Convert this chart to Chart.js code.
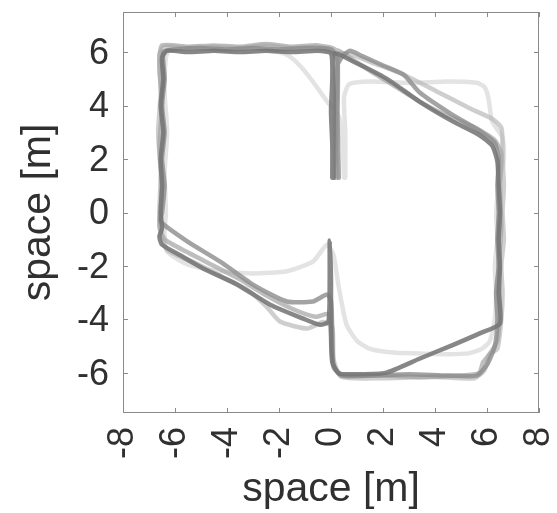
<!DOCTYPE html>
<html>
<head>
<meta charset="utf-8">
<script src="https://cdn.jsdelivr.net/npm/chart.js@4.4.1/dist/chart.umd.min.js"></script>
<style>
  body { margin: 0; background: #fff; }
  canvas { display: block; }
</style>
</head>
<body>
<canvas id="paths" width="557" height="513"></canvas>
<script>
"use strict";

// axis ticks
const xTicks = [-8, -6, -4, -2, 0, 2, 4, 6, 8];
const yTicks = [-6, -4, -2, 0, 2, 4, 6];

// trajectories, [x, y] in metres
const pathA = [[0.05,1.3],[0.05,2.5],[0,3.8],[0.05,5],[0,5.95],[-0.5,6.05],[-1.5,6],[-2.5,6.05],[-3.5,6],[-4.5,6.05],[-5.5,6],[-6.3,6.05],[-6.5,5.8],[-6.45,5],[-6.55,4],[-6.45,3],[-6.55,2],[-6.5,1],[-6.55,0],[-6.5,-0.6],[-6.6,-0.9],[-6.5,-1.2],[-5.8,-1.6],[-4.9,-2.1],[-3.6,-2.7],[-2.34,-3.45],[-1.07,-3.97],[-0.42,-4.2],[-0.1,-4.08],[-0.05,-2.5],[-0.05,-1.05],[0,-2.5],[0,-4.5],[0.05,-5.6],[0.3,-6.02],[1,-6.05],[2.1,-6],[3.4,-5.47],[4.7,-4.95],[5.7,-4.53],[6.5,-4.15],[6.45,-3],[6.5,-2],[6.45,-1],[6.5,0],[6.45,1],[6.4,1.9],[6.2,2.5],[5.7,2.9],[4.7,3.4],[3.4,4.15],[2.15,5],[0.85,5.65],[0.1,5.95],[0.1,4.5],[0.1,3],[0.1,1.3]];
const pathB = [[0.3,1.3],[0.25,3.5],[0.25,5.7],[0,6.1],[-1,6.15],[-2,6.1],[-3,6.15],[-4,6.1],[-5,6.15],[-6,6.1],[-6.45,6],[-6.4,5],[-6.5,4],[-6.4,3],[-6.5,2],[-6.4,1],[-6.5,0],[-6.56,-0.34],[-5.5,-1.1],[-4.26,-1.84],[-3,-2.7],[-1.7,-3.33],[-0.7,-3.33],[-0.15,-3.07],[0,-3.3],[0.05,-4.5],[0.1,-5.7],[0.4,-6.1],[1.5,-6.1],[3,-6.05],[4.5,-6.1],[5.6,-6.1],[6,-5.7],[6.3,-5],[6.4,-4],[6.35,-3],[6.45,-2],[6.4,-1],[6.45,0],[6.4,1],[6.45,2],[6.3,2.6],[5.8,3],[4.6,3.7],[3.4,4.5],[2.8,5.15],[2,5.5],[1.2,5.85],[0.73,6.05],[0.45,5.85],[0.25,5.5],[0.25,3.5],[0.3,1.3]];
const pathC = [[0.15,1.3],[0.15,3.5],[0.15,5.9],[-0.5,6.2],[-1.5,6.15],[-2.5,6.25],[-3.5,6.15],[-4.5,6.2],[-5.5,6.15],[-6.4,6.2],[-6.6,5.9],[-6.55,4.5],[-6.65,3],[-6.55,1.5],[-6.6,0],[-6.55,-0.8],[-6.3,-1.4],[-5.2,-1.9],[-4.2,-2.4],[-3.2,-2.9],[-2.5,-3.5],[-1.96,-4.08],[-0.92,-4.34],[-0.3,-4.1],[0.05,-4.3],[0.1,-5.5],[0.4,-6.15],[2,-6.2],[4,-6.15],[5.5,-6.2],[5.9,-5.9],[6.1,-5.3],[6.4,-5.1],[6.55,-4],[6.6,-3],[6.55,-2],[6.65,-1],[6.6,0],[6.65,1],[6.6,2],[6.56,3.15],[6.2,3.5],[5.33,3.9],[4.07,4.53],[2.76,5.17],[1.6,5.6],[0.8,5.9],[0.3,5.95],[0.2,4],[0.15,1.3]];
const pathD = [[0.5,1.3],[0.45,2.5],[0.3,3.6],[-0.15,4.15],[-0.7,4.9],[-1.2,5.5],[-1.7,5.9],[-2.5,6.1],[-3.5,6.15],[-4.5,6.1],[-5.5,6.15],[-6.2,6.1],[-6.35,5.8],[-6.4,4.5],[-6.3,3],[-6.4,1.5],[-6.35,0],[-6.4,-0.8],[-6.3,-1.46],[-5.5,-1.95],[-4.26,-2.2],[-3,-2.28],[-1.7,-2.2],[-0.7,-1.84],[-0.15,-1.2],[0.1,-1.6],[0.3,-2.8],[0.6,-4.2],[1,-4.8],[1.5,-5.1],[2.5,-5.25],[3.4,-5.27],[4.5,-5.3],[5.3,-5.27],[5.8,-5.1],[6.1,-4.83],[6.3,-4],[6.35,-3],[6.3,-2],[6.4,-1],[6.35,0],[6.5,1.3],[6.65,2],[6.6,2.8],[6.2,3.4],[6.05,4.3],[5.9,4.7],[5.6,4.85],[4.5,4.9],[3,4.85],[1.5,4.9],[0.7,4.8],[0.5,4.3],[0.55,3],[0.55,1.3]];
const pathE = [[0.2,1.3],[0.2,4],[0.2,6.05],[-0.5,6.25],[-1.5,6.2],[-2.5,6.3],[-3.5,6.2],[-4.5,6.25],[-5.5,6.2],[-6.5,6.25],[-6.6,5.5],[-6.5,4],[-6.6,2.5],[-6.5,1],[-6.6,-0.5],[-6.4,-1],[-5.5,-1.5],[-4.5,-2],[-3.5,-2.5],[-2.5,-3.1],[-1.5,-3.6],[-0.6,-3.9],[-0.1,-3.8],[0,-4.5],[0.1,-5.8],[0.5,-6.1],[2,-6.1],[3.5,-6.15],[5,-6.1],[5.7,-6],[5.85,-5.6],[6.1,-5.3],[6.4,-4.8],[6.5,-3.5],[6.45,-2],[6.55,-0.5],[6.5,1],[6.55,2.2],[6.3,2.7],[5.5,3.2],[4.5,3.6],[3.5,4.1],[2.5,4.7],[1.5,5.3],[0.7,5.8],[0.2,6.05],[0.2,4],[0.2,1.3]];

const paths = [pathA, pathB, pathE, pathC, pathD];
const shades = ["rgba(118,118,118,0.88)", "rgba(140,140,140,0.8)", "rgba(165,165,165,0.72)", "rgba(185,185,185,0.7)", "rgba(222,222,222,0.85)"];

// MATLAB-achtig kader med tickmarks inåt på alla fyra sidor
const frame = {
  id: "frame",
  afterDraw(chart) {
    const { ctx, chartArea: a, scales } = chart;
    ctx.save();
    ctx.strokeStyle = "#8a8a8a";
    ctx.lineWidth = 1;
    ctx.strokeRect(a.left + 0.5, a.top + 0.5, a.right - a.left - 1, a.bottom - a.top - 1);
    ctx.beginPath();
    xTicks.forEach(v => {
      const p = Math.round(scales.x.getPixelForValue(v)) + 0.5;
      ctx.moveTo(p, a.bottom); ctx.lineTo(p, a.bottom - 5);
      ctx.moveTo(p, a.top); ctx.lineTo(p, a.top + 5);
    });
    yTicks.forEach(v => {
      const p = Math.round(scales.y.getPixelForValue(v)) + 0.5;
      ctx.moveTo(a.left, p); ctx.lineTo(a.left + 5, p);
      ctx.moveTo(a.right, p); ctx.lineTo(a.right - 5, p);
    });
    ctx.stroke();
    ctx.restore();
  }
};

const tickFont = { family: "'Liberation Sans', Arial, sans-serif", size: 36 };
const titleFont = { family: "'Liberation Sans', Arial, sans-serif", size: 41, lineHeight: 1 };

new Chart(document.getElementById("paths"), {
  type: "scatter",
  data: {
    datasets: paths.map((p, i) => ({
      data: p.map(([x, y]) => ({ x, y })),
      showLine: true,
      borderColor: shades[i],
      borderWidth: 4.5,
      borderJoinStyle: "round",
      borderCapStyle: "round",
      pointRadius: 0,
      tension: 0.2
    }))
  },
  options: {
    responsive: false,
    animation: false,
    layout: { padding: { left: 0, top: 12, right: 18, bottom: 0 } },
    plugins: { legend: { display: false }, tooltip: { enabled: false } },
    scales: {
      x: {
        min: -8, max: 8,
        grid: { display: false, drawTicks: false },
        border: { display: false },
        afterBuildTicks: s => { s.ticks = xTicks.map(v => ({ value: v })); },
        afterFit: s => { s.height = 100; s.paddingLeft = 0; s.paddingRight = 0; },
        ticks: { minRotation: 90, maxRotation: 90, autoSkip: false, padding: 14, color: "#303030", font: tickFont, callback: v => String(v) },
        title: { display: true, text: "space [m]", color: "#303030", font: titleFont, padding: { top: 0, bottom: 3 } }
      },
      y: {
        min: -7.5, max: 7.5,
        grid: { display: false, drawTicks: false },
        border: { display: false },
        afterBuildTicks: s => { s.ticks = yTicks.map(v => ({ value: v })); },
        afterFit: s => { s.width = 123; s.paddingTop = 0; s.paddingBottom = 0; },
        ticks: { padding: 14, labelOffset: 2, color: "#303030", font: tickFont, callback: v => String(v) },
        title: { display: true, text: "space [m]", color: "#303030", font: titleFont, padding: { top: 18, bottom: 0 } }
      }
    }
  },
  plugins: [frame]
});
</script>
</body>
</html>
